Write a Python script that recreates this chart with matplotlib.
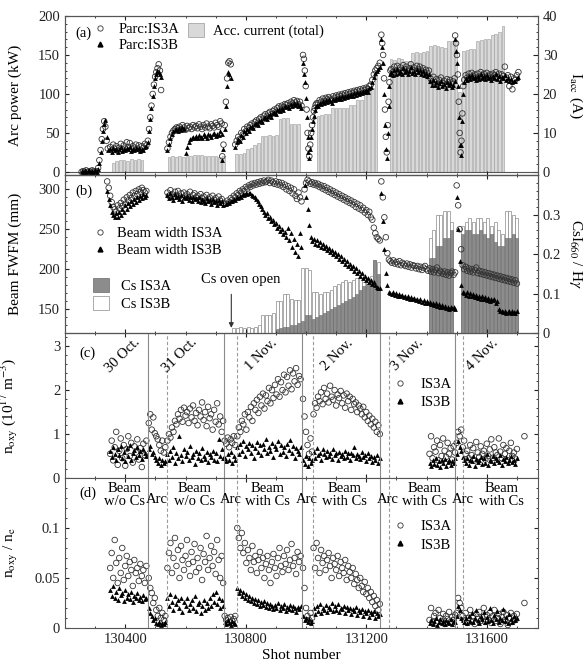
import numpy as np
import matplotlib.pyplot as plt
from matplotlib.lines import Line2D
from matplotlib.patches import Patch
from matplotlib.ticker import MultipleLocator

plt.rcParams['font.family'] = 'Liberation Serif'
plt.rcParams['mathtext.fontset'] = 'stix'
plt.rcParams['font.size'] = 10.5
plt.rcParams['xtick.direction'] = 'in'
plt.rcParams['ytick.direction'] = 'in'
plt.rcParams['axes.edgecolor'] = '#555555'

#####################################################################
# DATOS

# (a) potencia de arco (kW), por tramos: inicio, paso en disparos, valores
parc_start = [130255, 130310, 130350, 130475, 130540, 130722, 130765, 130990, 131040, 131250, 131283, 131495, 131525]
parc_step = [5, 4, 5, 4, 5, 4, 5, 3, 5, 3, 5, 3, 5]
parc_a = [
    [0, 1, 0, 2, 0, 1, 0, 2, 1, 0, 1],
    [5, 15, 28, 42, 55, 65, 58, 40, 30],
    [32, 28, 35, 30, 33, 27, 31, 36, 29, 34, 30, 38, 32, 37, 29, 33, 31, 35, 30, 34, 28, 33, 31, 36, 34],
    [40, 55, 70, 85, 100, 112, 122, 128, 133, 138, 130, 105],
    [30, 38, 45, 50, 53, 55, 57, 56, 58, 55, 60, 57, 54, 59, 56, 58, 55, 60, 57, 59, 56, 61, 58, 55, 60, 57, 62, 58,
     56, 61, 59, 57, 63, 60, 58, 65, 62],
    [20, 35, 60, 90, 120, 140, 142, 138],
    [35, 40, 45, 42, 50, 48, 55, 52, 58, 56, 60, 62, 59, 64, 66, 63, 68, 70, 67, 72, 74, 71, 75, 77, 74, 78, 80, 77,
     82, 84, 81, 85, 83, 87, 86, 88, 85, 90, 88, 92, 89, 91, 87, 90, 85],
    [150, 145, 130, 110, 80, 50, 30, 20, 35, 50, 60, 70, 78, 82, 86, 88],
    [88, 92, 90, 94, 91, 95, 93, 96, 94, 92, 97, 95, 98, 96, 99, 97, 100, 98, 101, 99, 102, 100, 103, 101, 104, 102,
     105, 103, 106, 104, 107, 105, 108, 106, 110, 112, 118, 125, 130, 133, 136, 140],
    [176, 165, 150, 120, 80, 45, 25, 60, 90, 115, 130],
    [132, 128, 135, 130, 136, 131, 134, 129, 137, 132, 135, 130, 133, 138, 131, 134, 129, 136, 132, 135, 130, 133, 128,
     131, 127, 130, 120, 116, 122, 115, 119, 113, 118, 121, 114, 117, 112, 119, 115, 118, 113, 116, 120],
    [175, 165, 150, 125, 90, 50, 25, 40, 75, 110],
    [118, 124, 121, 126, 122, 127, 123, 125, 121, 126, 122, 128, 124, 126, 122, 127, 123, 125, 121, 126, 124, 128, 122,
     126, 120, 125, 123, 135, 121, 124, 110, 122, 106, 120, 118, 124, 128],
]
parc_b = [
    [1, 0, 2, 0, 1, 3, 0, 1, 0, 2, 0],
    [4, 12, 25, 40, 52, 62, 66, 45, 28],
    [29, 26, 31, 28, 30, 25, 29, 32, 27, 30, 28, 31, 29, 32, 27, 30, 28, 31, 29, 31, 27, 30, 28, 32, 33],
    [38, 52, 68, 82, 97, 110, 120, 126, 130, 128, 125, 122],
    [28, 36, 43, 48, 52, 54, 55, 53, 56, 54, 57, 55, 24, 32, 38, 42, 44, 45, 43, 46, 44, 47, 45, 43, 48, 46, 44, 49,
     47, 45, 48, 50, 46, 49, 47, 52, 48],
    [15, 30, 55, 85, 110, 128, 125, 120],
    [32, 38, 42, 40, 47, 45, 52, 50, 55, 53, 57, 59, 56, 61, 63, 60, 65, 67, 64, 69, 71, 68, 72, 74, 71, 75, 77, 74,
     79, 81, 78, 82, 80, 84, 83, 85, 82, 87, 85, 88, 86, 88, 84, 86, 82],
    [140, 125, 115, 95, 70, 45, 25, 18, 30, 45, 55, 65, 72, 80, 84, 86],
    [85, 89, 87, 91, 88, 92, 90, 93, 91, 89, 94, 92, 95, 93, 96, 94, 97, 95, 98, 96, 99, 97, 100, 98, 101, 99, 102,
     100, 103, 101, 104, 102, 105, 103, 107, 109, 115, 122, 127, 130, 132, 135],
    [170, 160, 140, 100, 60, 30, 18, 50, 85, 110, 125],
    [128, 124, 131, 126, 132, 127, 130, 125, 133, 128, 131, 126, 129, 134, 127, 130, 125, 132, 128, 131, 126, 129, 124,
     127, 123, 126, 116, 112, 118, 111, 115, 109, 114, 117, 110, 113, 108, 115, 111, 114, 109, 112, 116],
    [170, 155, 140, 110, 70, 35, 22, 35, 65, 100],
    [115, 121, 118, 123, 119, 124, 120, 122, 118, 123, 119, 125, 121, 123, 119, 124, 120, 122, 118, 123, 121, 125, 119,
     123, 117, 122, 120, 124, 118, 121, 116, 119, 115, 117, 116, 120, 122],
]

# (a) corriente acelerada total (A), barras cada 12 disparos
iacc_start = [130360, 130545, 130770, 131040, 131282]
iacc = [
    [2.4, 2.8, 3.0, 3.1, 2.9, 3.2, 3.0, 3.2, 3.1],
    [3.9, 4.0, 3.8, 4.1, 3.9, 4.0, 4.2, 4.4, 4.3, 4.4, 4.2, 4.1, 4.0, 4.2, 3.9, 4.1],
    [4.5, 4.6, 4.8, 5.8, 6.2, 7.0, 7.3, 9.2, 9.3, 9.4, 9.3, 9.5, 13.6, 13.9, 13.8, 12.2, 12.3, 12.4],
    [14.3, 14.5, 14.8, 14.8, 16.4, 16.3, 16.4, 16.5, 16.4, 17.2, 17.1, 18.5, 18.4, 21.3, 21.5, 21.4, 25.2],
    [29.0, 28.8, 29.2, 28.9, 28.5, 28.4, 30.6, 30.8, 30.5, 30.7, 30.9, 32.3, 32.5, 32.2, 32.0, 31.8, 33.5, 33.7, 33.4,
     20.5, 31.0, 31.3, 31.5, 31.6, 33.5, 33.8, 34.0, 34.1, 35.2, 35.4, 36.0, 37.4],
]

# (b) ancho de haz (mm)
width_start = [130340, 130540, 130735, 130995, 131250, 131500]
width_a = [
    [310, 302, 292, 284, 278, 275, 272, 280, 276, 283, 279, 287, 282, 290, 286, 293, 289, 296, 292, 298, 294, 300, 297,
     302, 299, 296, 298],
    [296, 292, 299, 294, 290, 297, 293, 298, 291, 295, 289, 296, 292, 294, 290, 297, 288, 293, 295, 290, 292, 287, 294,
     289, 291, 286, 293, 288, 290, 285, 292, 287, 289, 284, 291, 286, 288, 283],
    [282, 286, 284, 289, 287, 292, 290, 295, 293, 298, 296, 300, 298, 303, 301, 305, 303, 307, 305, 308, 306, 309, 307,
     310, 308, 311, 309, 310, 312, 308, 311, 309, 307, 310, 306, 309, 305, 308, 303, 306, 300, 304, 298, 302, 295, 300,
     292, 288, 296, 290, 285],
    [300, 308, 312, 310, 307, 309, 306, 308, 305, 307, 303, 305, 301, 304, 299, 302, 297, 300, 295, 298, 293, 296, 291,
     294, 289, 292, 287, 290, 285, 288, 283, 286, 281, 284, 278, 282, 276, 280, 274, 277, 271, 274, 268, 272, 265, 262,
     252, 245, 240, 238, 236],
    [310, 290, 265, 240, 220, 212, 210, 208, 211, 207, 209, 206, 210, 205, 208, 206, 204, 207, 203, 206, 202, 205, 204,
     201, 204, 200, 203, 199, 202, 204, 200, 198, 201, 197, 200, 196, 199, 202, 195, 198, 196, 194, 197, 193, 196, 192,
     195, 197, 193, 196],
    [305, 280, 250, 225, 205, 200, 203, 198, 201, 197, 200, 196, 199, 202, 195, 198, 194, 197, 193, 196, 192, 195, 191,
     194, 190, 193, 189, 192, 188, 191, 187, 190, 186, 189, 185, 188, 184, 187, 183, 186, 182],
]
width_b = [
    [298, 288, 280, 272, 268, 266, 270, 265, 272, 268, 276, 272, 280, 276, 283, 279, 285, 282, 288, 284, 290, 287, 292,
     289, 294, 291, 293],
    [293, 289, 295, 291, 287, 294, 290, 292, 288, 293, 286, 291, 289, 292, 287, 290, 285, 291, 288, 289, 286, 290, 284,
     288, 286, 283, 289, 285, 287, 282, 288, 284, 286, 281, 287, 283, 285, 280],
    [282, 284, 283, 286, 285, 288, 287, 290, 289, 292, 291, 294, 293, 295, 294, 296, 295, 293, 292, 290, 288, 285, 282,
     279, 275, 272, 268, 270, 264, 266, 260, 262, 256, 258, 252, 254, 248, 250, 244, 246, 240, 252, 236, 245, 228, 238,
     222, 232, 216, 245, 228],
    [305, 290, 275, 255, 240, 235, 238, 232, 236, 230, 234, 228, 232, 226, 229, 224, 227, 222, 224, 219, 222, 216, 219,
     213, 216, 210, 213, 207, 210, 204, 207, 201, 204, 198, 201, 195, 198, 192, 195, 189, 192, 186, 189, 184, 186, 182,
     184, 180, 178, 177, 176],
    [295, 260, 225, 195, 180, 172, 170, 169, 171, 168, 170, 167, 169, 166, 168, 165, 167, 164, 166, 163, 165, 162, 164,
     161, 163, 160, 162, 159, 161, 158, 160, 157, 159, 156, 158, 155, 157, 154, 156, 153, 155, 152, 154, 151, 153, 150,
     152, 151, 153, 150],
    [290, 250, 210, 180, 172, 170, 168, 171, 167, 170, 166, 169, 165, 168, 164, 167, 163, 166, 162, 165, 161, 164, 160,
     163, 161, 162, 158, 160, 150, 147, 148, 146, 147, 145, 146, 148, 145, 147, 146, 145, 147],
]

# (b) razon CsI660 / H gamma, barras cada 12 disparos
cs_start = [130760, 131412]
cs_a = [
    [0, 0, 0, 0, 0, 0, 0, 0, 0, 0, 0, 0, 0.010, 0.012, 0.015, 0.015, 0.020, 0.020, 0.025, 0.030, 0.045, 0.045, 0.035,
     0.040, 0.045, 0.050, 0.055, 0.060, 0.065, 0.070, 0.075, 0.080, 0.085, 0.090, 0.100, 0.110, 0.120, 0.125, 0.130,
     0.185, 0.150],
    [0.19, 0.19, 0.22, 0.22, 0.24, 0.24, 0.26, 0, 0, 0.25, 0.26, 0.26, 0.25, 0.25, 0.26, 0.25, 0.24, 0.25, 0.23, 0.22,
     0.22, 0.24, 0.24, 0.25, 0.24],
]
cs_b = [
    [0.012, 0.012, 0.015, 0.012, 0.015, 0.013, 0.015, 0.020, 0.045, 0.045, 0.045, 0.050, 0.080, 0.080, 0.100, 0.100,
     0.085, 0.083, 0.083, 0.165, 0.165, 0.160, 0.105, 0.105, 0.100, 0.105, 0.105, 0.110, 0.120, 0.125, 0.130, 0.135,
     0.130, 0.135, 0.140, 0.140, 0.130, 0.140, 0.145, 0.185, 0.180],
    [0.24, 0.26, 0.30, 0.30, 0.31, 0.31, 0.28, 0, 0, 0.27, 0.28, 0.29, 0.28, 0.29, 0.29, 0.28, 0.29, 0.27, 0.28, 0.26,
     0.25, 0.31, 0.31, 0.30, 0.29],
]

# (c) y (d): disparos con haz
beam_start = [130350, 130478, 130540, 130730, 130772, 130990, 131025, 131410, 131500, 131725]
noxy_a = [
    [0.55, 0.85, 0.40, 0.70, 1.05, 0.30, 0.62, 0.90, 0.45, 0.75, 0.28, 0.66, 0.95, 0.50, 0.80, 0.35, 0.72, 0.58, 0.88,
     0.42, 0.68, 0.25, 0.78, 0.52, 0.85],
    [1.25, 1.45, 1.10, 1.38, 1.02, 0.95, 0.88, 0.75, 0.62, 0.85, 0.58, 0.70],
    [0.85, 1.00, 0.92, 1.15, 1.05, 1.30, 1.22, 1.45, 1.35, 1.55, 1.28, 1.60, 1.42, 1.50, 1.25, 1.58, 1.38, 1.65, 1.30,
     1.48, 1.20, 1.55, 1.40, 1.72, 1.32, 1.50, 1.18, 1.62, 1.36, 1.45, 1.10, 1.55, 1.28, 1.70, 1.22, 1.40, 1.05, 1.30],
    [0.85, 0.78, 0.92, 0.70, 0.88, 0.80, 0.95, 0.75],
    [0.95, 1.15, 1.05, 1.30, 1.22, 1.45, 1.10, 1.50, 1.38, 1.62, 1.30, 1.70, 1.55, 1.78, 1.48, 1.85, 1.65, 1.92, 1.58,
     1.88, 1.75, 2.05, 1.70, 2.00, 1.82, 2.12, 1.90, 2.25, 1.85, 2.18, 2.00, 2.35, 1.95, 2.30, 2.10, 2.45, 2.02, 2.38,
     2.20, 2.50, 2.12, 2.32, 2.25],
    [1.80, 1.40, 1.05, 0.75, 0.55, 0.90, 0.60],
    [1.45, 1.70, 1.60, 1.85, 1.75, 1.95, 1.68, 2.05, 1.80, 1.92, 1.72, 2.10, 1.85, 1.78, 2.00, 1.65, 1.90, 1.82, 1.98,
     1.70, 1.88, 1.60, 1.92, 1.75, 1.85, 1.55, 1.80, 1.68, 1.72, 1.50, 1.65, 1.58, 1.45, 1.62, 1.38, 1.50, 1.30, 1.42,
     1.22, 1.35, 1.15, 1.28, 1.05, 1.20, 1.00],
    [0.55, 0.95, 0.45, 0.70, 0.60, 0.85, 0.40, 0.75, 0.50, 0.90, 0.62, 0.48, 0.80, 0.55, 0.68, 0.42, 0.72, 0.58],
    [0.80, 1.05, 0.95, 1.10, 0.70, 0.85, 0.55, 0.62, 0.45, 0.75, 0.52, 0.68, 0.40, 0.82, 0.58, 0.48, 0.72, 0.55, 0.62,
     0.42, 0.78, 0.50, 0.65, 0.88, 0.46, 0.70, 0.58, 0.52, 0.90, 0.60, 0.45, 0.75, 0.55, 0.68, 0.40, 0.62, 0.80, 0.50,
     0.58, 0.44, 0.66],
    [0.95],
]
noxy_b = [
    [0.62, 0.48, 0.70, 0.55, 0.40, 0.66, 0.52, 0.72, 0.45, 0.60, 0.38, 0.68, 0.50, 0.74, 0.42, 0.58, 0.64, 0.47, 0.70,
     0.53, 0.61, 0.44, 0.67, 0.56, 0.50],
    [0.65, 0.72, 0.55, 0.60, 0.48, 0.42, 0.35, 0.45, 0.30, 0.40, 0.33, 0.38],
    [0.55, 0.40, 0.62, 0.48, 0.70, 0.35, 0.58, 0.45, 0.95, 0.52, 0.38, 0.66, 0.50, 0.60, 0.42, 0.72, 0.48, 0.55, 0.32,
     0.62, 0.46, 0.58, 0.40, 0.68, 0.50, 0.44, 0.60, 0.36, 0.54, 0.48, 0.62, 0.42, 0.56, 0.38, 0.88, 0.50, 0.66, 0.45],
    [0.45, 0.38, 0.55, 0.42, 0.60, 0.35, 0.50, 0.40],
    [0.70, 0.55, 0.78, 0.62, 0.85, 0.50, 0.72, 0.66, 0.80, 0.58, 0.75, 0.45, 0.68, 0.82, 0.60, 0.74, 0.52, 0.78, 0.65,
     0.88, 0.58, 0.70, 0.62, 0.80, 0.48, 0.72, 0.66, 0.84, 0.55, 0.76, 0.60, 0.70, 0.50, 0.78, 0.64, 0.86, 0.58, 0.72,
     0.45, 0.68, 0.62, 0.55, 0.70],
    [0.40, 0.32, 0.50, 0.28, 0.45, 0.35, 0.42],
    [0.60, 0.45, 0.68, 0.52, 0.58, 0.40, 0.65, 0.55, 0.48, 0.62, 0.50, 0.58, 0.44, 0.66, 0.52, 0.56, 0.42, 0.60, 0.50,
     0.54, 0.46, 0.62, 0.48, 0.56, 0.40, 0.58, 0.52, 0.70, 0.46, 0.55, 0.50, 0.44, 0.60, 0.48, 0.52, 0.38, 0.56, 0.45,
     0.50, 0.36, 0.48, 0.42, 0.52, 0.34, 0.45],
    [0.35, 0.28, 0.42, 0.32, 0.45, 0.30, 0.38, 0.25, 0.40, 0.33, 0.44, 0.28, 0.36, 0.42, 0.30, 0.38, 0.34, 0.46],
    [0.55, 0.85, 0.70, 0.62, 0.48, 0.40, 0.35, 0.45, 0.30, 0.42, 0.38, 0.50, 0.28, 0.44, 0.36, 0.40, 0.48, 0.32, 0.46,
     0.35, 0.55, 0.30, 0.42, 0.38, 0.50, 0.34, 0.45, 0.40, 0.36, 0.52, 0.30, 0.44, 0.38, 0.48, 0.33, 0.42, 0.50, 0.36,
     0.40, 0.32, 0.45],
    [],
]
ratio_a = [
    [0.060, 0.075, 0.050, 0.088, 0.065, 0.045, 0.070, 0.055, 0.080, 0.048, 0.062, 0.072, 0.052, 0.066, 0.058, 0.042,
     0.068, 0.055, 0.060, 0.047, 0.064, 0.052, 0.058, 0.045, 0.062],
    [0.050, 0.040, 0.035, 0.025, 0.030, 0.018, 0.012, 0.020, 0.010, 0.015, 0.008, 0.012],
    [0.060, 0.075, 0.085, 0.055, 0.070, 0.090, 0.062, 0.078, 0.050, 0.082, 0.068, 0.058, 0.072, 0.088, 0.064, 0.052,
     0.076, 0.066, 0.084, 0.056, 0.070, 0.060, 0.080, 0.048, 0.074, 0.066, 0.092, 0.058, 0.070, 0.082, 0.062, 0.076,
     0.054, 0.088, 0.068, 0.050, 0.072, 0.045],
    [0.012, 0.008, 0.010, 0.006, 0.011, 0.007, 0.009, 0.012],
    [0.100, 0.090, 0.080, 0.095, 0.075, 0.085, 0.065, 0.078, 0.070, 0.058, 0.082, 0.066, 0.072, 0.055, 0.068, 0.076,
     0.060, 0.070, 0.050, 0.064, 0.072, 0.058, 0.045, 0.066, 0.074, 0.060, 0.052, 0.070, 0.080, 0.062, 0.056, 0.072,
     0.064, 0.078, 0.058, 0.068, 0.084, 0.062, 0.070, 0.054, 0.076, 0.066, 0.072],
    [0.060, 0.040, 0.020, 0.012, 0.008, 0.015, 0.010],
    [0.080, 0.060, 0.085, 0.070, 0.055, 0.078, 0.065, 0.072, 0.058, 0.068, 0.075, 0.062, 0.050, 0.070, 0.064, 0.058,
     0.072, 0.052, 0.066, 0.060, 0.055, 0.068, 0.048, 0.062, 0.056, 0.050, 0.060, 0.044, 0.054, 0.048, 0.040, 0.050,
     0.042, 0.036, 0.046, 0.034, 0.040, 0.030, 0.036, 0.026, 0.032, 0.022, 0.028, 0.018, 0.024],
    [0.008, 0.020, 0.006, 0.012, 0.015, 0.005, 0.018, 0.010, 0.007, 0.014, 0.004, 0.012, 0.009, 0.016, 0.006, 0.011,
     0.008, 0.013],
    [0.015, 0.030, 0.025, 0.020, 0.012, 0.008, 0.015, 0.005, 0.010, 0.018, 0.006, 0.012, 0.004, 0.014, 0.009, 0.016,
     0.007, 0.011, 0.020, 0.006, 0.013, 0.008, 0.015, 0.005, 0.012, 0.018, 0.007, 0.010, 0.014, 0.004, 0.011, 0.016,
     0.008, 0.013, 0.003, 0.010, 0.015, 0.006, 0.012, 0.008, 0.014],
    [0.025],
]
ratio_b = [
    [0.038, 0.032, 0.042, 0.030, 0.036, 0.028, 0.040, 0.033, 0.035, 0.027, 0.038, 0.030, 0.034, 0.029, 0.036, 0.026,
     0.032, 0.030, 0.035, 0.028, 0.031, 0.027, 0.033, 0.029, 0.030],
    [0.020, 0.015, 0.012, 0.008, 0.010, 0.005, 0.004, 0.006, 0.003, 0.005, 0.004, 0.006],
    [0.030, 0.022, 0.034, 0.026, 0.018, 0.032, 0.024, 0.028, 0.020, 0.030, 0.016, 0.026, 0.022, 0.030, 0.018, 0.024,
     0.028, 0.020, 0.032, 0.017, 0.024, 0.026, 0.015, 0.022, 0.028, 0.018, 0.025, 0.020, 0.030, 0.022, 0.034, 0.026,
     0.036, 0.024, 0.030, 0.020, 0.028, 0.022],
    [0.006, 0.004, 0.008, 0.005, 0.003, 0.007, 0.005, 0.004],
    [0.040, 0.035, 0.038, 0.032, 0.036, 0.030, 0.034, 0.028, 0.032, 0.027, 0.030, 0.025, 0.029, 0.024, 0.028, 0.022,
     0.026, 0.023, 0.027, 0.021, 0.025, 0.020, 0.024, 0.022, 0.019, 0.023, 0.020, 0.025, 0.018, 0.022, 0.020, 0.024,
     0.017, 0.021, 0.019, 0.023, 0.018, 0.022, 0.020, 0.016, 0.021, 0.019, 0.022],
    [0.012, 0.008, 0.010, 0.006, 0.009, 0.005, 0.007],
    [0.020, 0.014, 0.022, 0.017, 0.024, 0.015, 0.020, 0.018, 0.023, 0.016, 0.021, 0.019, 0.025, 0.017, 0.022, 0.018,
     0.024, 0.016, 0.020, 0.019, 0.022, 0.015, 0.021, 0.018, 0.020, 0.014, 0.019, 0.017, 0.021, 0.013, 0.018, 0.016,
     0.019, 0.012, 0.017, 0.015, 0.018, 0.011, 0.016, 0.014, 0.017, 0.010, 0.015, 0.012, 0.014],
    [0.005, 0.008, 0.004, 0.007, 0.010, 0.003, 0.006, 0.009, 0.005, 0.007, 0.004, 0.008, 0.006, 0.005, 0.009, 0.004,
     0.007, 0.006],
    [0.012, 0.022, 0.018, 0.010, 0.008, 0.006, 0.010, 0.005, 0.012, 0.007, 0.015, 0.006, 0.010, 0.018, 0.008, 0.005,
     0.012, 0.009, 0.016, 0.006, 0.011, 0.007, 0.020, 0.008, 0.005, 0.013, 0.009, 0.017, 0.006, 0.010, 0.008, 0.019,
     0.007, 0.011, 0.005, 0.014, 0.009, 0.006, 0.012, 0.008, 0.010],
    [],
]

# separadores de dias y etiquetas
day_lines = [130475, 130727, 130986, 131247, 131493]   # inicio de arco (linea llena)
beam_lines = [130538, 130770, 131022, 131277, 131522]  # inicio de haz (linea de trazos)
day_pos = [130392, 130581, 130853, 131105, 131337, 131585]
day_names = ['30 Oct.', '31 Oct.', '1 Nov.', '2 Nov.', '3 Nov.', '4 Nov.']
phase_beam_pos = [130399, 130631, 130873, 131128, 131393, 131648]
phase_beam_txt = ['Beam\nw/o Cs', 'Beam\nw/o Cs', 'Beam\nwith Cs', 'Beam\nwith Cs', 'Beam\nwith Cs', 'Beam\nwith Cs']
phase_arc_pos = [130505, 130750, 131002, 131271, 131520]
cs_oven_shot = 130752


def tramos(starts, chunks, steps=None, paso=5):
    # arma x,y concatenando tramos consecutivos de disparos
    x, y = [], []
    for i, v in enumerate(chunks):
        d = paso if steps is None else steps[i]
        x.extend(starts[i] + d * np.arange(len(v)))
        y.extend(v)
    return np.array(x), np.array(y)


#####################################################################
# FIGURA

fig = plt.figure(figsize=(5.83, 6.66), dpi=100)
L, W = 0.1115, 0.8113
ax_a = fig.add_axes([L, 0.7372, W, 0.2388])
ax_b = fig.add_axes([L, 0.5000, W, 0.2372])
ax_c = fig.add_axes([L, 0.2823, W, 0.2177])
ax_d = fig.add_axes([L, 0.0571, W, 0.2252])
axs = [ax_a, ax_b, ax_c, ax_d]

circ = dict(marker='o', s=16, facecolors='none', edgecolors='#333333', linewidths=0.6)
tri = dict(marker='^', s=12, color='black', linewidths=0)

for ax in axs:
    ax.set_xlim(130200, 131770)
    ax.xaxis.set_major_locator(MultipleLocator(400))
    ax.xaxis.set_minor_locator(MultipleLocator(100))
    ax.tick_params(which='both', top=True, labelbottom=False, labelsize=10.5, colors='#222222')
    ax.tick_params(which='major', length=3)
    ax.tick_params(which='minor', length=1.5)
ax_d.tick_params(labelbottom=True)

# ---- (a)
ax_a2 = ax_a.twinx()
ax_a.set_zorder(ax_a2.get_zorder() + 1)
ax_a.patch.set_visible(False)
for s0, v in zip(iacc_start, iacc):
    ax_a2.bar(s0 + 12 * np.arange(len(v)), v, width=9, color='#d9d9d9', edgecolor='#9a9a9a', linewidth=0.4)
ax_a2.axhline(0, color='#555555', lw=0.8)
x, y = tramos(parc_start, parc_a, parc_step)
ax_a.scatter(x, y, **circ)
x, y = tramos(parc_start, parc_b, parc_step)
ax_a.scatter(x, y, **tri)
ax_a.set_ylim(-4, 200)
ax_a2.set_ylim(-0.8, 40)
ax_a.yaxis.set_major_locator(MultipleLocator(50))
ax_a.yaxis.set_minor_locator(MultipleLocator(10))
ax_a2.yaxis.set_major_locator(MultipleLocator(10))
ax_a2.yaxis.set_minor_locator(MultipleLocator(2))
ax_a.tick_params(which='both', right=False)
ax_a2.tick_params(which='both', labelsize=10.5, colors='#222222')
ax_a2.tick_params(which='minor', length=1.5)
ax_a.set_ylabel('Arc power (kW)', fontsize=11)
ax_a.yaxis.set_label_coords(-0.09, 0.5)
ax_a2.set_ylabel(r'I$_{\rm acc}$ (A)', fontsize=11, rotation=270, ha='center', va='center')
ax_a2.yaxis.set_label_coords(1.08, 0.5)
ax_a.text(0.021, 0.89, '(a)', transform=ax_a.transAxes, va='center')
hA = Line2D([], [], ls='none', marker='o', ms=3.8, mfc='none', mec='#333333', mew=0.6)
hB = Line2D([], [], ls='none', marker='^', ms=3.5, color='black')
leg = ax_a.legend([hA, hB], ['Parc:IS3A', 'Parc:IS3B'], loc='upper left', bbox_to_anchor=(0.055, 0.955),
                  frameon=False, handlelength=1.3, handletextpad=0.6, labelspacing=0.15, borderaxespad=0,
                  borderpad=0, fontsize=10.5)
ax_a.add_artist(leg)
ax_a.legend([Patch(facecolor='#d9d9d9', edgecolor='#9a9a9a', lw=0.5)], ['Acc. current (total)'],
            loc='upper left', bbox_to_anchor=(0.26, 0.955), frameon=False, handlelength=1.1,
            handleheight=1.1, handletextpad=0.6, borderaxespad=0, borderpad=0, fontsize=10.5)

# ---- (b)
ax_b2 = ax_b.twinx()
ax_b.set_zorder(ax_b2.get_zorder() + 1)
ax_b.patch.set_visible(False)
for s0, vb, va in zip(cs_start, cs_b, cs_a):
    xb = s0 + 12 * np.arange(len(vb))
    ax_b2.bar(xb, vb, width=10, color='white', edgecolor='#8a8a8a', linewidth=0.5)
    ax_b2.bar(xb, va, width=10, color='#8c8c8c', edgecolor='#6a6a6a', linewidth=0.4)
x, y = tramos(width_start, width_a)
ax_b.scatter(x, y, **circ)
x, y = tramos(width_start, width_b)
ax_b.scatter(x, y, **tri)
ax_b.set_ylim(120, 318)
ax_b2.set_ylim(0, 0.4)
ax_b.yaxis.set_major_locator(MultipleLocator(50))
ax_b.yaxis.set_minor_locator(MultipleLocator(10))
ax_b2.yaxis.set_minor_locator(MultipleLocator(0.02))
ax_b2.set_yticks([0, 0.1, 0.2, 0.3])
ax_b2.set_yticklabels(['0', '0.1', '0.2', '0.3'])
ax_b.tick_params(which='both', right=False)
ax_b2.tick_params(which='both', labelsize=10.5, colors='#222222')
ax_b2.tick_params(which='minor', length=1.5)
ax_b.set_ylabel('Beam FWFM (mm)', fontsize=11)
ax_b.yaxis.set_label_coords(-0.09, 0.5)
ax_b2.set_ylabel(r'CsI$_{660}$ / H$\gamma$', fontsize=11, rotation=270, ha='center', va='center')
ax_b2.yaxis.set_label_coords(1.08, 0.5)
ax_b.text(0.021, 0.9, '(b)', transform=ax_b.transAxes, va='center')
leg = ax_b.legend([hA, hB], ['Beam width IS3A', 'Beam width IS3B'], loc='upper left',
                  bbox_to_anchor=(0.055, 0.67), frameon=False, handlelength=1.2, handletextpad=0.6,
                  labelspacing=0.25, borderaxespad=0, borderpad=0, fontsize=10.5)
ax_b.add_artist(leg)
ax_b.legend([Patch(facecolor='#8c8c8c', edgecolor='#6a6a6a', lw=0.5),
             Patch(facecolor='white', edgecolor='#8a8a8a', lw=0.5)], ['Cs IS3A', 'Cs IS3B'],
            loc='upper left', bbox_to_anchor=(0.06, 0.35), frameon=False, handlelength=1.1,
            handleheight=1.1, handletextpad=0.8, labelspacing=0.2, borderaxespad=0, borderpad=0,
            fontsize=10.5)
ax_b2.annotate('', xy=(cs_oven_shot, 0.006), xytext=(cs_oven_shot, 0.105),
               arrowprops=dict(arrowstyle='-|>', color='#333333', lw=0.8, mutation_scale=7))
ax_b2.text(cs_oven_shot + 30, 0.118, 'Cs oven open', ha='center', va='bottom', fontsize=10.5)

# ---- (c) y (d)
for ax in (ax_c, ax_d):
    for s in day_lines:
        ax.axvline(s, color='#8a8a8a', lw=0.8)
    for s in beam_lines:
        ax.axvline(s, color='#9a9a9a', lw=0.8, ls=(0, (3, 2)))
    ax.tick_params(which='both', right=True)

x, y = tramos(beam_start, noxy_a)
ax_c.scatter(x, y, **circ)
x, y = tramos(beam_start, noxy_b)
ax_c.scatter(x, y, **tri)
ax_c.set_ylim(0, 3.3)
ax_c.yaxis.set_major_locator(MultipleLocator(1))
ax_c.yaxis.set_minor_locator(MultipleLocator(0.2))
ax_c.set_ylabel(r'n$_{\rm oxy}$ (10$^{17}$ m$^{-3}$)', fontsize=11)
ax_c.yaxis.set_label_coords(-0.095, 0.5)
ax_c.text(0.03, 0.86, '(c)', transform=ax_c.transAxes, va='center')
for p, t in zip(day_pos, day_names):
    ax_c.text(p, 2.8, t, rotation=45, ha='center', va='center', fontsize=10.5)
ax_c.legend([hA, hB], ['IS3A', 'IS3B'], loc='upper left', bbox_to_anchor=(0.69, 0.69), frameon=False,
            handlelength=1.2, handletextpad=0.8, labelspacing=0.35, borderaxespad=0, borderpad=0,
            fontsize=10.5)

x, y = tramos(beam_start, ratio_a)
ax_d.scatter(x, y, **circ)
x, y = tramos(beam_start, ratio_b)
ax_d.scatter(x, y, **tri)
ax_d.set_ylim(0, 0.15)
ax_d.set_yticks([0, 0.05, 0.1])
ax_d.set_yticklabels(['0', '0.05', '0.1'])
ax_d.yaxis.set_minor_locator(MultipleLocator(0.01))
ax_d.set_ylabel(r'n$_{\rm oxy}$ / n$_{\rm e}$', fontsize=11)
ax_d.yaxis.set_label_coords(-0.095, 0.5)
ax_d.set_xlabel('Shot number', fontsize=11, labelpad=2)
ax_d.text(0.03, 0.9, '(d)', transform=ax_d.transAxes, va='center')
for p, t in zip(phase_beam_pos, phase_beam_txt):
    ax_d.text(p, 0.133, t, ha='center', va='center', fontsize=10.5, linespacing=1.05)
for p in phase_arc_pos:
    ax_d.text(p, 0.128, 'Arc', ha='center', va='center', fontsize=10.5)
ax_d.legend([hA, hB], ['IS3A', 'IS3B'], loc='upper left', bbox_to_anchor=(0.69, 0.72), frameon=False,
            handlelength=1.2, handletextpad=0.8, labelspacing=0.35, borderaxespad=0, borderpad=0,
            fontsize=10.5)

plt.savefig('out.png', dpi=100)
